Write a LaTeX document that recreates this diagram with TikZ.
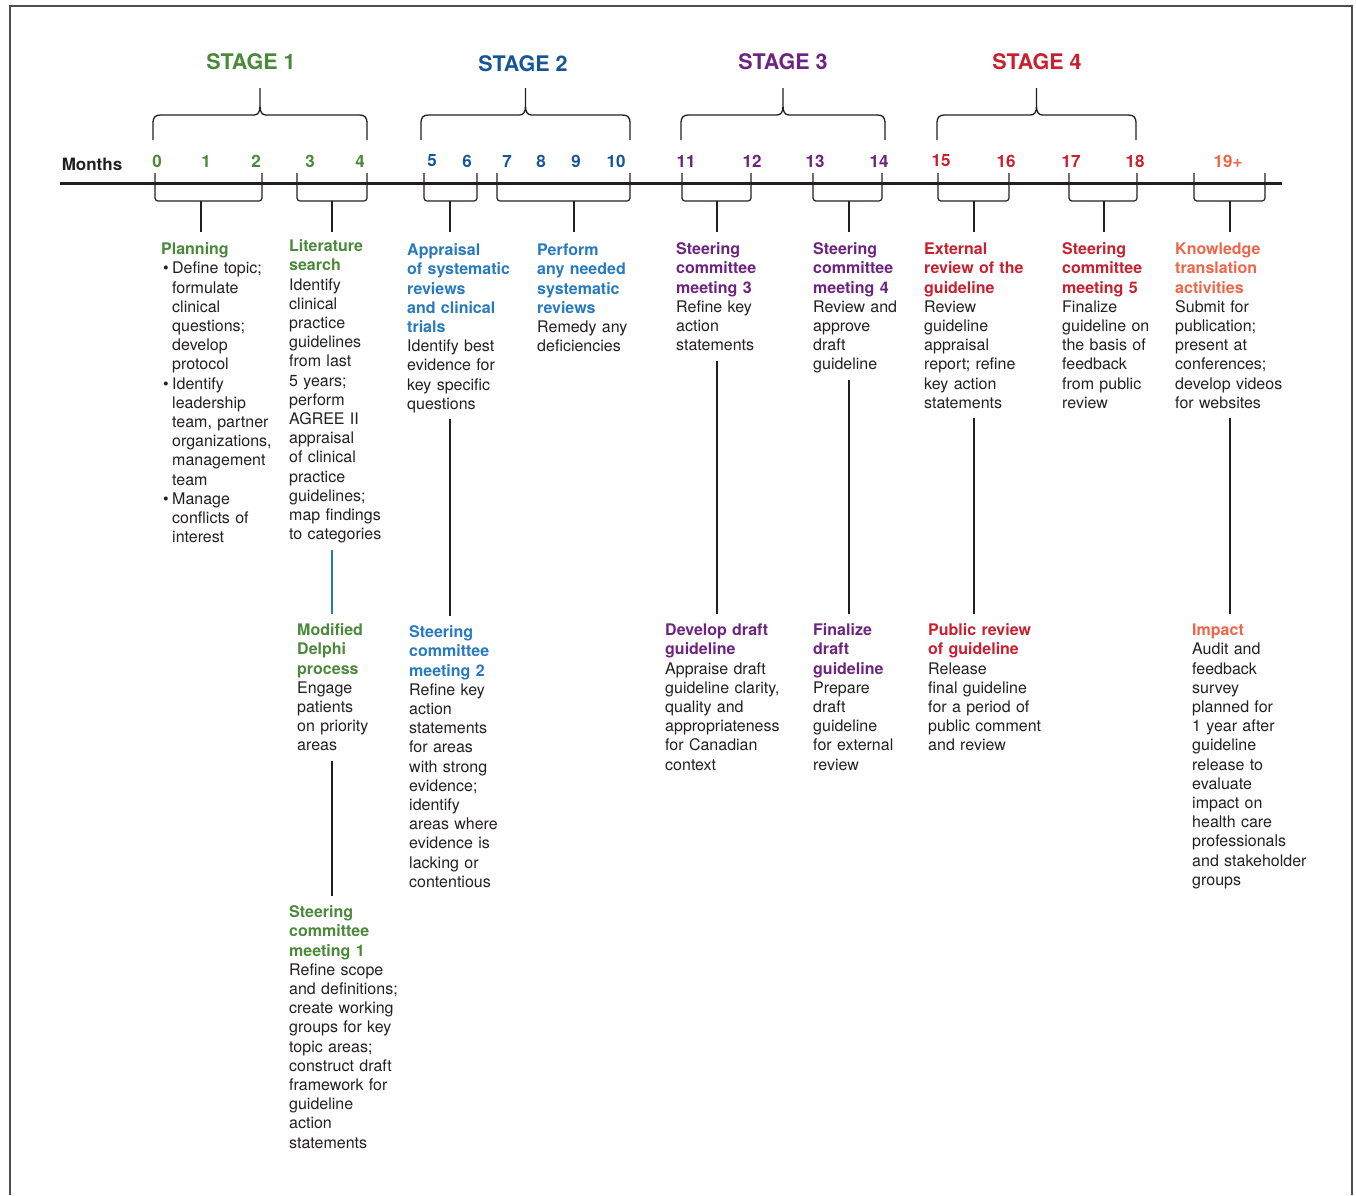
\documentclass[tikz,border=0pt]{standalone}
\usepackage{fontspec}
\setmainfont{TeX Gyre Heros}
\definecolor{stgreen}{RGB}{74,137,58}
\definecolor{stblue}{RGB}{22,86,152}
\definecolor{lightblue}{RGB}{40,122,192}
\definecolor{stpurple}{RGB}{108,36,128}
\definecolor{stred}{RGB}{200,32,46}
\definecolor{storange}{RGB}{236,102,74}
\definecolor{ink}{RGB}{35,31,32}
\newcommand{\hd}[2]{\textcolor{#1}{\bfseries #2}}
\newcommand{\bul}{\makebox[11pt][l]{\hspace{2pt}\textbullet}}
\newcommand{\ind}{\hspace*{11pt}}

\begin{document}
\begin{tikzpicture}[x=1pt, y=-1pt,
    col/.style={anchor=north west, inner sep=0pt, text width=150pt, align=left, text=ink,
      font=\fontsize{16}{19.2}\selectfont, execute at begin node=\strut, execute at end node=\strut},
    month/.style={font=\fontsize{17}{20}\selectfont\bfseries, inner sep=0pt},
    stage/.style={font=\fontsize{21.5}{25}\selectfont\bfseries, inner sep=0pt},
    stagebrace/.style={draw=ink, line width=1.3pt},
    tick/.style={draw=ink, line width=1.2pt},
    conn/.style={draw=ink, line width=1.2pt, shorten <=4pt, shorten >=8pt}]
  \useasboundingbox (0,0) rectangle (1356,1195);
  \draw[ink!80, line width=1.5pt] (10,1195) -- (10,6) -- (1352,6) -- (1352,1195);

  % Les étapes
  \node[stage, text=stgreen] (stage1) at (251,62) {STAGE 1};
  \node[stage, text=stblue] (stage2) at (523,64) {STAGE 2};
  \node[stage, text=stpurple] (stage3) at (783,62) {STAGE 3};
  \node[stage, text=stred] (stage4) at (1037,62) {STAGE 4};
  \foreach \a/\b [evaluate=\a as \m using {(\a+\b)/2}] in {153/367, 421/630, 681/885, 937/1136}
    \draw[stagebrace] (\a,140) -- (\a,124) .. controls (\a,117) and (\a+2,115) .. (\a+8,115)
      -- (\m-6,115) .. controls (\m-2,115) and (\m,112) .. (\m,106) -- (\m,88)
      -- (\m,106) .. controls (\m,112) and (\m+2,115) .. (\m+6,115)
      -- (\b-8,115) .. controls (\b-2,115) and (\b,117) .. (\b,124) -- (\b,140);

  % Les mois
  \node[month, text=ink] (months) at (92,164) {Months};
  \foreach \n/\x/\c in {0/157/stgreen, 1/206/stgreen, 2/256/stgreen, 3/310/stgreen, 4/360/stgreen,
      5/432/stblue, 6/467/stblue, 7/507/stblue, 8/541/stblue, 9/576/stblue, 10/616/stblue,
      11/686/stpurple, 12/752/stpurple, 13/815/stpurple, 14/879/stpurple,
      15/941/stred, 16/1006/stred, 17/1071/stred, 18/1135/stred}
    \node[month, text=\c] (m\n) at (\x,161) {\n};
  \node[month, text=storange] (m19) at (1228,161) {19+};
  \draw[ink, line width=3pt] (60,183) -- (1282,183);
  \foreach \a/\b/\s/\nm in {155/262/201/p02, 297/367/332/p34, 424/477/450/p56, 497/630/574/p710,
      682/751/717/p1112, 813/882/849/p1314, 938/1009/974/p1516, 1069/1137/1104/p1718, 1194/1265/1230/p19} {
    \draw[tick, rounded corners=3pt] (\a,173) -- (\a,201) -- (\b,201) -- (\b,173);
    \draw[tick] (\s,201) -- (\s,232);
    \coordinate (\nm) at (\s,232);
  }

  % Les activités
  \node[col] (plan) at (161,241) {\hd{stgreen}{Planning}\\
    \bul Define topic;\\ \ind formulate\\ \ind clinical\\ \ind questions;\\ \ind develop\\ \ind protocol\\
    \bul Identify\\ \ind leadership\\ \ind team, partner\\ \ind organizations,\\ \ind management\\ \ind team\\
    \bul Manage\\ \ind conflicts of\\ \ind interest};
  \node[col] (litsearch) at (289,238) {\hd{stgreen}{Literature\\search}\\Identify\\clinical\\practice\\guidelines\\from last\\5 years;\\perform\\AGREE II\\appraisal\\of clinical\\practice\\guidelines;\\map findings\\to categories};
  \node[col] (delphi) at (297,622) {\hd{stgreen}{Modified\\Delphi\\process}\\Engage\\patients\\on priority\\areas};
  \node[col] (scm1) at (289,904) {\hd{stgreen}{Steering\\committee\\meeting 1}\\Refine scope\\and definitions;\\create working\\groups for key\\topic areas;\\construct draft\\framework for\\guideline\\action\\statements};
  \node[col] (apprais) at (407,242) {\hd{lightblue}{Appraisal\\of systematic\\reviews\\and clinical\\trials}\\Identify best\\evidence for\\key specific\\questions};
  \node[col] (scm2) at (409,624) {\hd{lightblue}{Steering\\committee\\meeting 2}\\Refine key\\action\\statements\\for areas\\with strong\\evidence;\\identify\\areas where\\evidence is\\lacking or\\contentious};
  \node[col] (perform) at (537,242) {\hd{lightblue}{Perform\\any needed\\systematic\\reviews}\\Remedy any\\deficiencies};
  \node[col] (scm3) at (676,241) {\hd{stpurple}{Steering\\committee\\meeting 3}\\Refine key\\action\\statements};
  \node[col] (devdraft) at (665,622) {\hd{stpurple}{Develop draft\\guideline}\\Appraise draft\\guideline clarity,\\quality and\\appropriateness\\for Canadian\\context};
  \node[col] (scm4) at (813,241) {\hd{stpurple}{Steering\\committee\\meeting 4}\\Review and\\approve\\draft\\guideline};
  \node[col] (findraft) at (813,622) {\hd{stpurple}{Finalize\\draft\\guideline}\\Prepare\\draft\\guideline\\for external\\review};
  \node[col] (extrev) at (924,241) {\hd{stred}{External\\review of the\\guideline}\\Review\\guideline\\appraisal\\report; refine\\key action\\statements};
  \node[col] (pubrev) at (928,622) {\hd{stred}{Public review\\of guideline}\\Release\\final guideline\\for a period of\\public comment\\and review};
  \node[col] (scm5) at (1062,241) {\hd{stred}{Steering\\committee\\meeting 5}\\Finalize\\guideline on\\the basis of\\feedback\\from public\\review};
  \node[col] (ktact) at (1175,241) {\hd{storange}{Knowledge\\translation\\activities}\\Submit for\\publication;\\present at\\conferences;\\develop videos\\for websites};
  \node[col] (impact) at (1192,622) {\hd{storange}{Impact}\\Audit and\\feedback\\survey\\planned for\\1 year after\\guideline\\release to\\evaluate\\impact on\\health care\\professionals\\and stakeholder\\groups};

  % Les liens verticaux
  \draw[conn, draw=lightblue] (litsearch.south -| p34) -- (delphi.north -| p34);
  \draw[conn] (delphi.south -| p34) -- (scm1.north -| p34);
  \draw[conn] (apprais.south -| p56) -- (scm2.north -| p56);
  \draw[conn] (scm3.south -| p1112) -- (devdraft.north -| p1112);
  \draw[conn] (scm4.south -| p1314) -- (findraft.north -| p1314);
  \draw[conn] (extrev.south -| p1516) -- (pubrev.north -| p1516);
  \draw[conn] (ktact.south -| p19) -- (impact.north -| p19);
\end{tikzpicture}
\end{document}
